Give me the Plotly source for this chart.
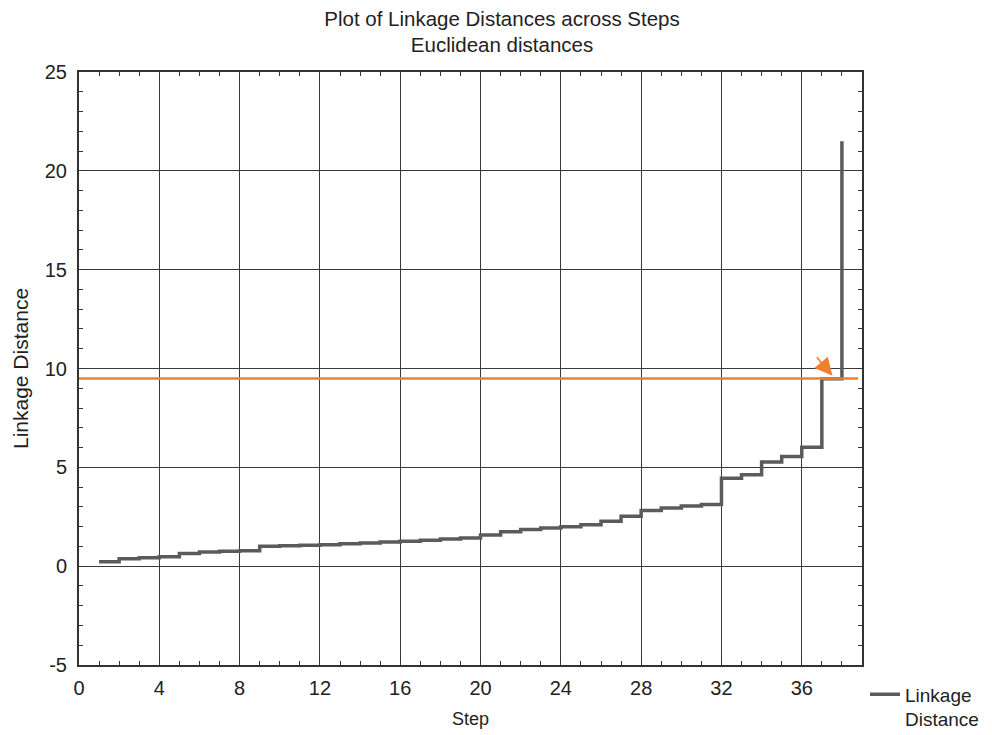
import plotly.graph_objects as go

# ---- data ----
steps = list(range(1, 39))
linkage_distance = [
    0.22, 0.37, 0.42, 0.48, 0.64, 0.72, 0.75, 0.78, 1.01, 1.03,
    1.06, 1.08, 1.14, 1.17, 1.22, 1.26, 1.31, 1.38, 1.43, 1.58,
    1.74, 1.86, 1.93, 2.00, 2.10, 2.27, 2.52, 2.82, 2.94, 3.05,
    3.12, 4.45, 4.63, 5.27, 5.55, 6.02, 9.48, 21.5,
]
cutoff_level = 9.5
cutoff_x_end = 38.8
arrow_target = (37.53, 9.63)
x_tick_vals = list(range(0, 37, 4))
x_tick_text = [str(v) for v in x_tick_vals]
y_tick_vals = list(range(-5, 26, 5))
y_tick_text = [str(v) for v in y_tick_vals]  # plain hyphen for "-5"

FONT = "Liberation Sans, Arial, sans-serif"
TXT = "#222222"
GRAY = "#5b5b5b"
ORANGE = "#EE7F2D"

fig = go.Figure()
fig.add_trace(go.Scatter(
    x=steps, y=linkage_distance, mode="lines",
    line=dict(shape="hv", color=GRAY, width=3.5),
    name="Linkage<br>Distance",
))

fig.add_shape(type="line", xref="x", yref="y",
              x0=0, x1=cutoff_x_end, y0=cutoff_level, y1=cutoff_level,
              line=dict(color=ORANGE, width=2.5))

fig.add_annotation(x=arrow_target[0], y=arrow_target[1], xref="x", yref="y",
                   text="", showarrow=True, ax=-17, ay=-20,
                   arrowhead=2, arrowsize=2.2, arrowwidth=1.6,
                   arrowcolor=ORANGE, standoff=0)

axis_common = dict(
    showline=True, linecolor="#333333", linewidth=2, mirror="ticks",
    ticks="inside", ticklen=5, tickcolor="#333333", tickwidth=1,
    showgrid=True, gridcolor="#3a3a3a", gridwidth=1, zeroline=False,
    automargin=False,
    tickfont=dict(family=FONT, size=20, color=TXT),
    minor=dict(ticks="inside", ticklen=4, tickcolor="#333333", tickwidth=1,
               showgrid=False),
)

fig.update_xaxes(range=[0, 39], tickvals=x_tick_vals, ticktext=x_tick_text,
                 minor_dtick=1,
                 title=dict(text="Step", font=dict(family=FONT, size=18, color=TXT),
                            standoff=14),
                 ticklabelstandoff=4, **axis_common)
fig.update_yaxes(range=[-5, 25], tickvals=y_tick_vals, ticktext=y_tick_text,
                 minor_dtick=1,
                 title=dict(text="Linkage Distance", font=dict(family=FONT, size=21, color=TXT),
                            standoff=10),
                 ticklabelstandoff=6, **axis_common)

fig.update_layout(
    width=992, height=735,
    margin=dict(l=71, r=138, t=64, b=78, autoexpand=False),
    paper_bgcolor="white", plot_bgcolor="white",
    font=dict(family=FONT, color=TXT),
    title=dict(text="Plot of Linkage Distances across Steps<br>Euclidean distances",
               x=0.498, xanchor="center", y=0.976, yanchor="top",
               font=dict(family=FONT, size=20.5, color=TXT)),
    showlegend=True,
    legend=dict(x=1.0038, xanchor="left", y=-0.0177, yanchor="top",
                valign="top", font=dict(family=FONT, size=19, color=TXT),
                bgcolor="rgba(0,0,0,0)", borderwidth=0),
)

fig.write_html("out.html")
